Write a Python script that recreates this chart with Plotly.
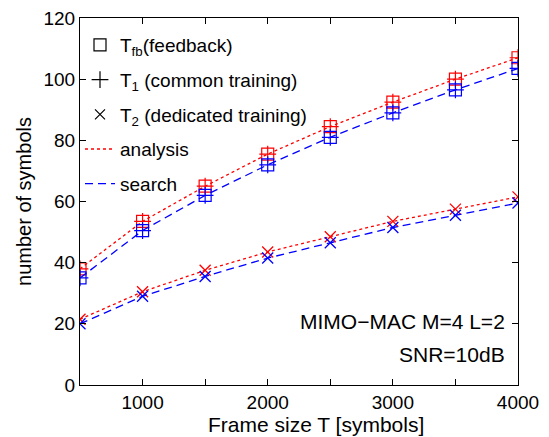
import plotly.graph_objects as go

# Data
frame_T = [500, 1000, 1500, 2000, 2500, 3000, 3500, 4000]

tfb_analysis = [38.0, 53.5, 65.0, 75.5, 84.5, 92.5, 100.0, 107.0]
t1_analysis = [38.0, 53.5, 65.0, 75.5, 84.5, 92.5, 100.0, 107.0]
t2_analysis = [21.5, 30.5, 37.5, 43.5, 48.5, 53.5, 57.5, 61.5]

tfb_search = [35.0, 50.5, 62.0, 72.0, 81.0, 89.0, 96.5, 103.5]
t1_search = [35.0, 50.5, 62.0, 72.0, 81.0, 89.0, 96.5, 103.5]
t2_search = [20.0, 29.0, 35.5, 41.5, 46.5, 51.5, 55.5, 59.5]

x_tickvals = [500, 1000, 1500, 2000, 2500, 3000, 3500, 4000]
x_ticktext = ["", "1000", "", "2000", "", "3000", "", "4000"]
y_tickvals = [0, 20, 40, 60, 80, 100, 120]

RED = "#ff0000"
BLUE = "#0000ff"
FONT = "Liberation Sans, Arial, sans-serif"

fig = go.Figure()

def add_series(y_fb, y_1, y_2, color, dash):
    for yy in (y_fb, y_2):
        fig.add_trace(go.Scatter(x=frame_T, y=yy, mode="lines",
                                 line=dict(color=color, width=1.3, dash=dash),
                                 showlegend=False, hoverinfo="skip"))
    fig.add_trace(go.Scatter(x=frame_T, y=y_fb, mode="markers",
                             marker=dict(symbol="square-open", size=12,
                                         color=color, line=dict(width=1.2, color=color)),
                             showlegend=False))
    fig.add_trace(go.Scatter(x=frame_T, y=y_1, mode="markers",
                             marker=dict(symbol="cross-thin-open", size=12,
                                         color=color, line=dict(width=1.2, color=color)),
                             showlegend=False))
    fig.add_trace(go.Scatter(x=frame_T, y=y_2, mode="markers",
                             marker=dict(symbol="x-thin-open", size=11,
                                         color=color, line=dict(width=1.3, color=color)),
                             showlegend=False))

add_series(tfb_analysis, t1_analysis, t2_analysis, RED, "dot")
add_series(tfb_search, t1_search, t2_search, BLUE, "8px,5px")

# Legend entries
legend_items = [
    ("T<sub>fb</sub>(feedback)", dict(mode="markers", marker=dict(symbol="square-open", size=12, color="black", line=dict(width=1.2, color="black")))),
    ("T<sub>1</sub> (common training)", dict(mode="markers", marker=dict(symbol="cross-thin-open", size=12, color="black", line=dict(width=1.2, color="black")))),
    ("T<sub>2</sub> (dedicated training)", dict(mode="markers", marker=dict(symbol="x-thin-open", size=10, color="black", line=dict(width=1.2, color="black")))),
    ("analysis", dict(mode="lines", line=dict(color=RED, width=1.5, dash="dot"))),
    ("search", dict(mode="lines", line=dict(color=BLUE, width=1.3, dash="8px,5px"))),
]
for i, (name, kw) in enumerate(legend_items):
    fig.add_trace(go.Scatter(x=[None], y=[None], name=name, legendgroup=f"g{i}", **kw))

axis_common = dict(
    showline=True, linecolor="black", linewidth=1, mirror="ticks",
    ticks="inside", ticklen=6, tickcolor="black", showgrid=False, zeroline=False,
    tickfont=dict(family=FONT, size=19, color="black"), ticklabeloverflow="allow",
)

fig.update_layout(
    width=541, height=429,
    margin=dict(l=72, r=31, t=10, b=52, autoexpand=False),
    paper_bgcolor="white", plot_bgcolor="white",
    font=dict(family=FONT, color="black"),
    xaxis=dict(range=[500, 4000], tickmode="array", tickvals=x_tickvals, ticktext=x_ticktext,
               automargin=False, **axis_common),
    yaxis=dict(range=[0, 120], tickmode="array", tickvals=y_tickvals,
               title=dict(text="number of symbols", font=dict(family=FONT, size=20), standoff=6),
               automargin=False, **axis_common),
    legend=dict(x=0.0, y=0.978, xanchor="left", yanchor="top", bgcolor="rgba(0,0,0,0)",
                font=dict(family=FONT, size=19, color="black"), tracegroupgap=7,
                traceorder="grouped"),
    annotations=[
        dict(xref="paper", yref="paper", x=0.539, y=-0.108, xanchor="center", yanchor="middle",
             text="Frame size T [symbols]", showarrow=False, font=dict(family=FONT, size=21)),
        dict(xref="paper", yref="paper", x=0.975, y=0.174, xanchor="right", yanchor="middle",
             text="MIMO\u2212MAC M=4 L=2", showarrow=False, font=dict(family=FONT, size=21)),
        dict(xref="paper", yref="paper", x=0.975, y=0.082, xanchor="right", yanchor="middle",
             text="SNR=10dB", showarrow=False, font=dict(family=FONT, size=21)),
    ],
)

fig.write_html("out.html")
